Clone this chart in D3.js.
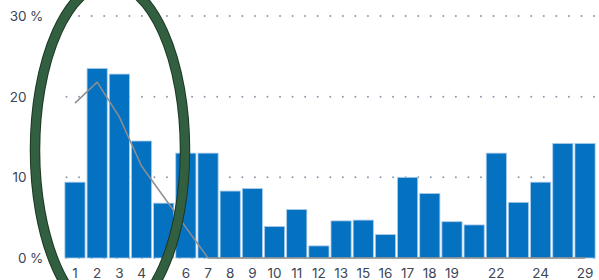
<!DOCTYPE html>
<html>
<head>
<meta charset="utf-8">
<script src="https://cdn.jsdelivr.net/npm/d3@7"></script>
<style>
  body { margin: 0; background: #fff; }
  svg text { font-family: Inter, "Noto Sans", sans-serif; fill: #3b4658; }
</style>
</head>
<body>
<svg width="599" height="280"></svg>
<script>
// bar categories (labels that are shown under the axis; blanks were hidden in the original)
var categories = ["1","2","3","4","5","6","7","8","9","10","11","12","13","15","16","17","18","19","20","22","23","24","25","29"];
var tickLabels = ["1","2","3","4","","6","7","8","9","10","11","12","13","15","16","17","18","19","","22","","24","","29"];
// bar values in %
var barValues = [9.4, 23.5, 22.8, 14.5, 6.8, 13.0, 13.0, 8.3, 8.6, 3.9, 6.0, 1.5, 4.6, 4.7, 2.9, 10.0, 8.0, 4.5, 4.1, 13.0, 6.9, 9.4, 14.2, 14.2];
// gray line values in %
var lineValues = [19.2, 21.8, 17.5, 11.4, 7.6, 3.8, 0, 0, 0, 0, 0, 0, 0, 0, 0, 0, 0, 0, 0, 0, 0, 0, 0, 0];
var yTicks = [0, 10, 20, 30];

function createChart() {
	var svg = d3.select("svg");

	var x = d3.scaleBand()
		.domain(categories)
		.range([64, 596])
		.paddingInner(0.09)
		.paddingOuter(0.04);
	var y = d3.scaleLinear()
		.domain([0, 30])
		.range([258, 16]);

	// dotted grid lines
	svg.append("g").selectAll("line")
		.data(yTicks).enter().append("line")
		.attr("x1", 66.5)
		.attr("x2", 598)
		.attr("y1", function(d) { return y(d); })
		.attr("y2", function(d) { return y(d); })
		.attr("stroke", "#8c98ad")
		.attr("stroke-width", 2)
		.attr("stroke-linecap", "round")
		.attr("stroke-dasharray", "0,12.56");

	// y tick labels, number right aligned, unit only on first and last
	var yl = svg.append("g");
	yl.selectAll("text.num")
		.data(yTicks).enter().append("text")
		.attr("class", "num")
		.attr("x", 26.5)
		.attr("y", function(d) { return y(d); })
		.attr("dy", "0.36em")
		.attr("text-anchor", "end")
		.style("font-size", "13.5px")
		.text(function(d) { return d; });
	yl.selectAll("text.unit")
		.data([0, 30]).enter().append("text")
		.attr("class", "unit")
		.attr("x", 30)
		.attr("y", function(d) { return y(d); })
		.attr("dy", "0.36em")
		.style("font-size", "13.5px")
		.text("%");

	// bars
	svg.append("g").selectAll("rect")
		.data(barValues).enter().append("rect")
		.attr("x", function(d, i) { return x(categories[i]); })
		.attr("width", x.bandwidth())
		.attr("y", function(d) { return y(d); })
		.attr("height", function(d) { return y(0) - y(d); })
		.attr("fill", "#0571c1")
		.attr("stroke", "#a9cbec")
		.attr("stroke-width", 0.8);

	// gray line
	var line = d3.line()
		.x(function(d, i) { return x(categories[i]) + x.bandwidth() / 2; })
		.y(function(d) { return y(d); });
	svg.append("path")
		.datum(lineValues)
		.attr("d", line)
		.attr("fill", "none")
		.attr("stroke", "#8e8e8e")
		.attr("stroke-width", 1.5);

	// x axis labels
	svg.append("g")
		.attr("transform", "translate(0,258)")
		.call(d3.axisBottom(x).tickSize(0).tickPadding(10)
			.tickFormat(function(d, i) { return tickLabels[i]; }))
		.call(function(g) { g.select(".domain").remove(); })
		.selectAll("text")
		.attr("fill", "#3b4658")
		.style("font-size", "13.5px")
		.style("font-family", "Inter, 'Noto Sans', sans-serif");

	// hand drawn green ellipse annotation
	svg.append("ellipse")
		.attr("cx", 110).attr("cy", 150)
		.attr("rx", 75).attr("ry", 167)
		.attr("fill", "none")
		.attr("stroke", "#1c3824")
		.attr("stroke-width", 10.5);
	svg.append("ellipse")
		.attr("cx", 110).attr("cy", 150)
		.attr("rx", 75).attr("ry", 167)
		.attr("fill", "none")
		.attr("stroke", "#325f40")
		.attr("stroke-width", 8.5);
}
createChart();
</script>
</body>
</html>
